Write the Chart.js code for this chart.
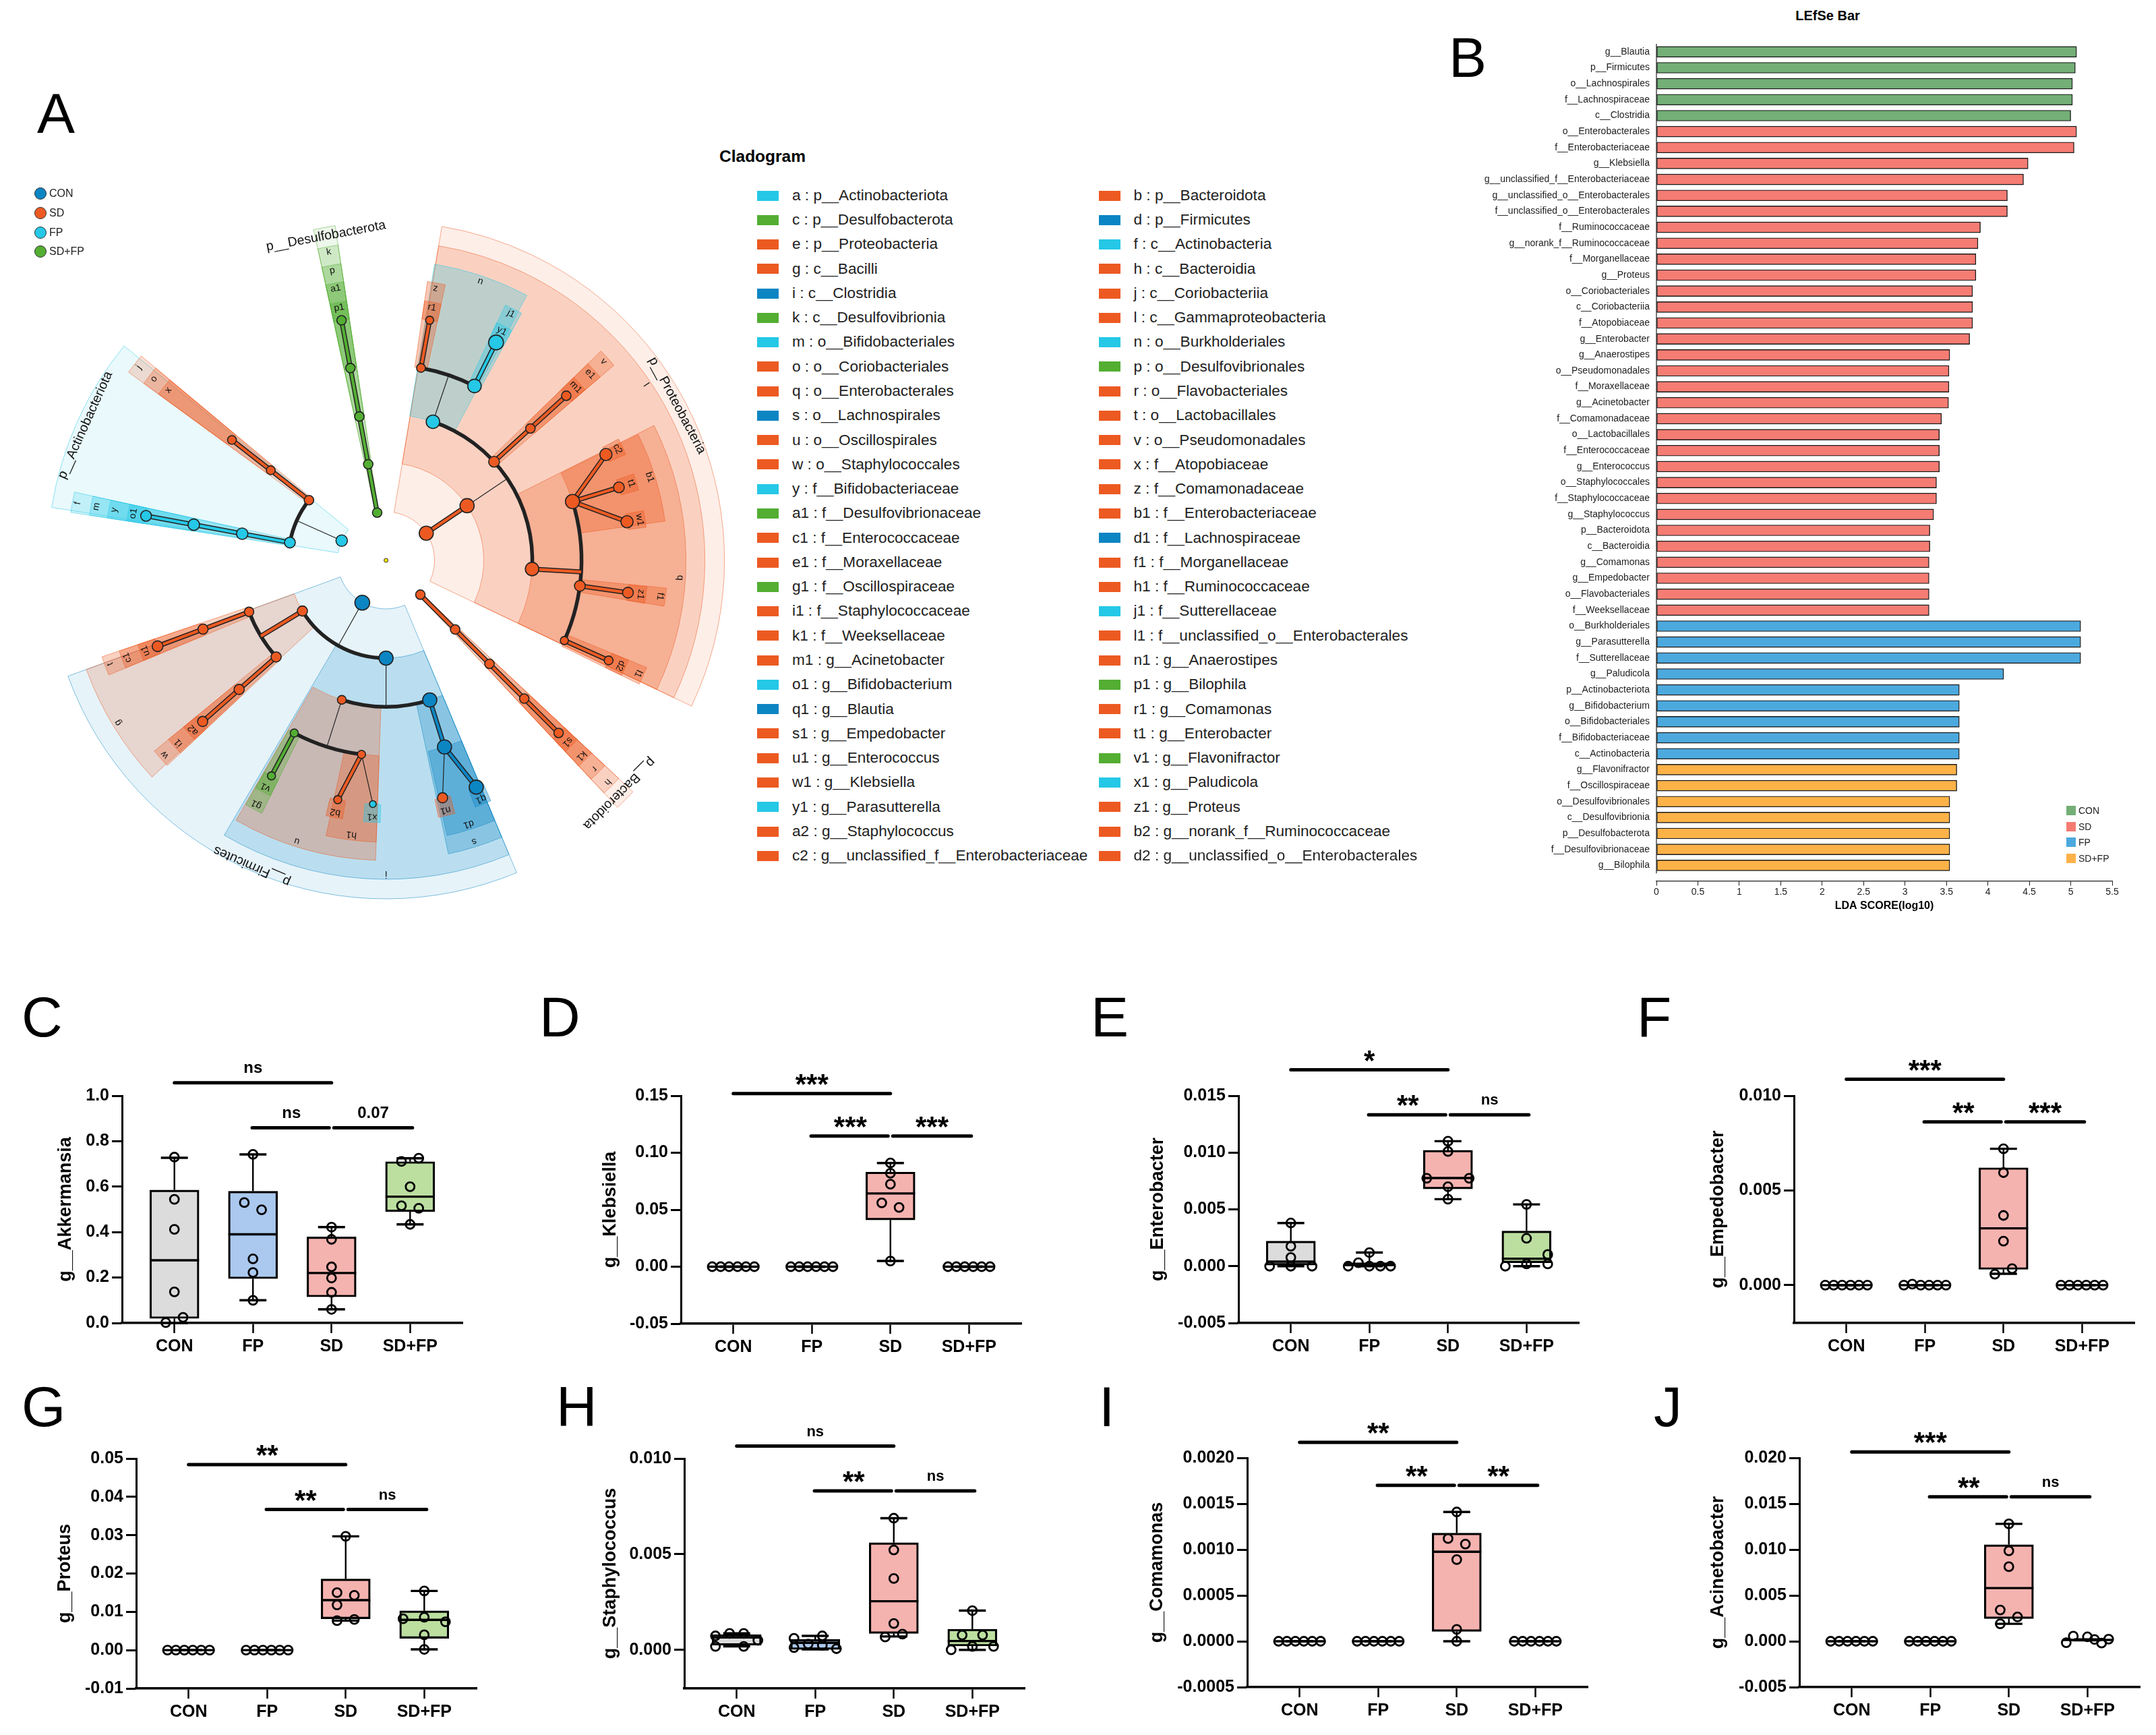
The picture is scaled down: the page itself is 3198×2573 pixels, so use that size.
<!DOCTYPE html>
<html><head><meta charset="utf-8">
<style>
html,body{margin:0;padding:0;background:#fff}
#page{position:relative;width:3198px;height:2573px;overflow:hidden;background:#fff;font-family:"Liberation Sans",Arial,sans-serif}
canvas{position:absolute;display:block}
.t{position:absolute;white-space:pre;line-height:1;color:#000;z-index:5}
.s{position:absolute;z-index:5}
</style>
<script src="https://cdn.jsdelivr.net/npm/chart.js@4"></script>
</head><body><div id="page"></div>
<script>
/* ---------- DATA ---------- */
const groupNames=['CON','FP','SD','SD+FP'];
const zeroBox=[0,0,0,0,0];
const zeroPts=[[0,-.268],[0,-.161],[0,-.054],[0,.054],[0,.161],[0,.268]];

// boxes: [min,q1,median,q3,max]   points: [value, sideways offset in category units]
const akkermansiaBox=[[0,.02,.276,.585,.727],[.10,.195,.39,.58,.742],[.06,.115,.22,.379,.422],[.434,.49,.556,.71,.725]];
const akkermansiaPts=[[[.73,0],[.544,0],[.412,0],[.137,0],[.025,.11],[.002,-.11]],[[.742,0],[.53,-.11],[.498,.11],[.282,0],[.222,0],[.10,0]],[[.422,0],[.368,0],[.247,0],[.198,0],[.135,0],[.06,0]],[[.725,.11],[.711,-.11],[.60,0],[.516,-.11],[.505,.11],[.434,0]]];
const klebsiellaBox=[zeroBox,zeroBox,[.005,.041,.0643,.083,.091],zeroBox];
const klebsiellaPts=[zeroPts,zeroPts,[[.091,0],[.082,0],[.0724,0],[.056,-.11],[.052,.11],[.005,0]],zeroPts];
const enterobacterBox=[[0,.0001,.0004,.0022,.0038],[0,0,.0001,.0003,.0012],[.0059,.0068,.00776,.0102,.011],[0,.0003,.00066,.0031,.00544]];
const enterobacterPts=[[[.0038,0],[.00175,0],[.00077,0],[0,-.27],[0,0],[0,.27]],[[.0012,0],[.0003,-.14],[0,-.27],[0,0],[0,.14],[0,.27]],[[.011,0],[.0101,0],[.00774,-.27],[.00774,.27],[.007,0],[.0059,0]],[[.00544,0],[.00245,0],[.00103,.27],[.0002,.27],[.0002,0],[0,-.27]]];
const empedobacterBox=[zeroBox,zeroBox,[.0006,.00083,.003,.0062,.0072],zeroBox];
const empedobacterPts=[zeroPts,[[0,-.268],[.00005,-.161],[0,-.054],[0,.054],[0,.161],[0,.268]],[[.0072,0],[.00594,0],[.00368,0],[.00232,0],[.00087,.11],[.00058,-.11]],zeroPts];
const proteusBox=[zeroBox,zeroBox,[.0077,.0082,.01306,.01856,.0297],[.0002,.0031,.0079,.01026,.01545]];
const proteusPts=[zeroPts,zeroPts,[[.0297,0],[.015,-.11],[.0143,.11],[.0118,-.11],[.0077,-.11],[.008,.11]],[[.01545,0],[.0086,0],[.0082,-.27],[.0074,.27],[.004,0],[.0002,0]]];
const staphBox=[[.00018,.00024,.00065,.0008,.00086],[.00002,.00002,.00037,.00055,.00073],[.0007,.00086,.00254,.0056,.00688],[0,.0002,.00046,.00108,.00205]];
const staphPts=[[[.00073,-.27],[.00086,-.09],[.00086,.09],[.0005,.27],[.00018,-.27],[.00018,.09]],[[.0006,-.27],[.00073,.09],[.0003,-.09],[.00024,.09],[.00006,.27],[.00012,-.27]],[[.00688,0],[.00522,0],[.00373,0],[.00138,0],[.00082,.11],[.00067,-.11]],[[.00205,0],[.00077,-.13],[.00077,.13],[.00018,0],[.00018,.27],[0,-.27]]];
const comamonasBox=[zeroBox,zeroBox,[0,.000107,.000976,.00118,.00141],zeroBox];
const comamonasPts=[zeroPts,zeroPts,[[.00141,0],[.00112,-.11],[.00106,.11],[.00089,0],[.00013,0],[0,0]],zeroPts];
const acinetobacterBox=[zeroBox,zeroBox,[.0019,.00247,.0058,.01053,.0128],[.0001,.0001,.00015,.0002,.0002]];
const acinetobacterPts=[zeroPts,zeroPts,[[.0128,0],[.00986,0],[.00813,0],[.00341,-.11],[.00265,.11],[.0019,-.11]],[[.00056,-.18],[.00048,0],[.0002,.09],[.00023,.27],[-.00015,-.27],[-.0002,.18]]];

// LEfSe
const lefseNames=['g__Blautia','p__Firmicutes','o__Lachnospirales','f__Lachnospiraceae','c__Clostridia','o__Enterobacterales','f__Enterobacteriaceae','g__Klebsiella','g__unclassified_f__Enterobacteriaceae','g__unclassified_o__Enterobacterales','f__unclassified_o__Enterobacterales','f__Ruminococcaceae','g__norank_f__Ruminococcaceae','f__Morganellaceae','g__Proteus','o__Coriobacteriales','c__Coriobacteriia','f__Atopobiaceae','g__Enterobacter','g__Anaerostipes','o__Pseudomonadales','f__Moraxellaceae','g__Acinetobacter','f__Comamonadaceae','o__Lactobacillales','f__Enterococcaceae','g__Enterococcus','o__Staphylococcales','f__Staphylococcaceae','g__Staphylococcus','p__Bacteroidota','c__Bacteroidia','g__Comamonas','g__Empedobacter','o__Flavobacteriales','f__Weeksellaceae','o__Burkholderiales','g__Parasutterella','f__Sutterellaceae','g__Paludicola','p__Actinobacteriota','g__Bifidobacterium','o__Bifidobacteriales','f__Bifidobacteriaceae','c__Actinobacteria','g__Flavonifractor','f__Oscillospiraceae','o__Desulfovibrionales','c__Desulfovibrionia','p__Desulfobacterota','f__Desulfovibrionaceae','g__Bilophila'];
const lefseScores=[5.07,5.055,5.02,5.02,5.0,5.07,5.04,4.485,4.43,4.235,4.235,3.91,3.88,3.855,3.855,3.815,3.815,3.815,3.78,3.54,3.53,3.53,3.525,3.44,3.415,3.415,3.415,3.38,3.38,3.345,3.30,3.30,3.29,3.29,3.29,3.29,5.12,5.12,5.12,4.19,3.655,3.655,3.655,3.655,3.655,3.625,3.625,3.54,3.54,3.54,3.54,3.54];
const lefseGroupCounts=[['CON',5],['SD',31],['FP',9],['SD+FP',7]];
const lefseTicks=[0,.5,1,1.5,2,2.5,3,3.5,4,4.5,5,5.5];

// Cladogram legend
const cladoLegendLeft=[['a : p__Actinobacteriota','FP'],['c : p__Desulfobacterota','SD+FP'],['e : p__Proteobacteria','SD'],['g : c__Bacilli','SD'],['i : c__Clostridia','CON'],['k : c__Desulfovibrionia','SD+FP'],['m : o__Bifidobacteriales','FP'],['o : o__Coriobacteriales','SD'],['q : o__Enterobacterales','SD'],['s : o__Lachnospirales','CON'],['u : o__Oscillospirales','SD'],['w : o__Staphylococcales','SD'],['y : f__Bifidobacteriaceae','FP'],['a1 : f__Desulfovibrionaceae','SD+FP'],['c1 : f__Enterococcaceae','SD'],['e1 : f__Moraxellaceae','SD'],['g1 : f__Oscillospiraceae','SD+FP'],['i1 : f__Staphylococcaceae','SD'],['k1 : f__Weeksellaceae','SD'],['m1 : g__Acinetobacter','SD'],['o1 : g__Bifidobacterium','FP'],['q1 : g__Blautia','CON'],['s1 : g__Empedobacter','SD'],['u1 : g__Enterococcus','SD'],['w1 : g__Klebsiella','SD'],['y1 : g__Parasutterella','FP'],['a2 : g__Staphylococcus','SD'],['c2 : g__unclassified_f__Enterobacteriaceae','SD']];
const cladoLegendRight=[['b : p__Bacteroidota','SD'],['d : p__Firmicutes','CON'],['f : c__Actinobacteria','FP'],['h : c__Bacteroidia','SD'],['j : c__Coriobacteriia','SD'],['l : c__Gammaproteobacteria','SD'],['n : o__Burkholderiales','FP'],['p : o__Desulfovibrionales','SD+FP'],['r : o__Flavobacteriales','SD'],['t : o__Lactobacillales','SD'],['v : o__Pseudomonadales','SD'],['x : f__Atopobiaceae','SD'],['z : f__Comamonadaceae','SD'],['b1 : f__Enterobacteriaceae','SD'],['d1 : f__Lachnospiraceae','CON'],['f1 : f__Morganellaceae','SD'],['h1 : f__Ruminococcaceae','SD'],['j1 : f__Sutterellaceae','FP'],['l1 : f__unclassified_o__Enterobacterales','SD'],['n1 : g__Anaerostipes','SD'],['p1 : g__Bilophila','SD+FP'],['r1 : g__Comamonas','SD'],['t1 : g__Enterobacter','SD'],['v1 : g__Flavonifractor','SD+FP'],['x1 : g__Paludicola','FP'],['z1 : g__Proteus','SD'],['b2 : g__norank_f__Ruminococcaceae','SD'],['d2 : g__unclassified_o__Enterobacterales','SD']];

// Cladogram tree: [label, level, angle(deg), parent, group, node size, optional sector from, to]
const levelRadius=[72,145,217,290,362];
const levelOuter=[502,473,445,418,389];
const levelAlpha=[.1,.2,.28,.34,.4];
const proteobacteriaClades=[['e',0,34,null,'SD',10.5,-25.5,80.5],['l',1,34,'e','SD',10.5,-25.5,80.5],['q',2,-3.4,'l','SD',10,-25.5,26.7],['v',2,42.4,'l','SD',8],['n',2,71.3,'l','FP',10,62,80.7],['b1',3,17.5,'q','SD',10.5,8,26.5],['f1',3,-7.5,'q','SD',8],['l1',3,-24.2,'q','SD',6],['e1',3,42.4,'v','SD',7],['z',3,79.7,'n','SD',6.5],['j1',3,63.1,'n','FP',10],['c2',4,25.7,'b1','SD',9],['t1',4,17.4,'b1','SD',8],['w1',4,9.1,'b1','SD',9],['z1',4,-7.6,'f1','SD',8],['d2',4,-24.2,'l1','SD',6.5],['m1',4,42.4,'e1','SD',7],['r1',4,79.7,'z','SD',6],['y1',4,63.2,'j1','FP',11]];
const bacteroidotaClades=[['b',0,-45,null,'SD',7],['h',1,-45,'b','SD',7],['r',2,-45,'h','SD',7],['k1',3,-45,'r','SD',7],['s1',4,-45,'k1','SD',7]];
const desulfobacterotaClades=[['c',0,100.5,null,'SD+FP',7],['k',1,100.5,'c','SD+FP',7],['p',2,100.5,'k','SD+FP',7],['a1',3,100.5,'p','SD+FP',7],['p1',4,100.5,'a1','SD+FP',7]];
const actinobacteriotaClades=[['a',0,156,null,'FP',8.5,140.7,171],['f',1,169.5,'a','FP',8],['j',1,142,'a','SD',7],['m',2,169.5,'f','FP',8.5],['o',2,142,'j','SD',6.5],['y',3,169.5,'m','FP',8.5],['x',3,142,'o','SD',6.5],['o1',4,169.5,'y','FP',8]];
const firmicutesClades=[['d',0,240.7,null,'CON',11,200,292.7],['i',1,270,'d','CON',10.5,239.5,292.7],['g',1,211.2,'d','SD',7.5,200,222.8],['t',2,200.6,'g','SD',7],['w',2,221.3,'g','SD',7.5],['u',2,252.4,'i','SD',6.5,240,268],['s',2,287.4,'i','CON',10.5,282,292.7],['c1',3,200.6,'t','SD',7.5],['i1',3,221.3,'w','SD',7.5],['d1',3,287.4,'s','CON',10.5,282.5,292.7],['g1',3,242,'u','SD+FP',6],['h1',3,262.8,'u','SD',6,257.7,268],['u1',4,200.6,'c1','SD',8],['a2',4,221.3,'i1','SD',7.5],['q1',4,291.7,'d1','CON',10.5],['n1',4,283.4,'d1','SD',7.5],['v1',4,242,'g1','SD+FP',6],['b2',4,258.6,'h1','SD',6],['x1',4,266.9,'h1','FP',5]];
const arcParents=['l','q','n','a','d','g','i','u'];
const phylumLabels=[['p__Actinobacteriota',155.8,489],['p__Desulfobacterota',100.5,489],['p__Proteobacteria',28,489],['p__Bacteroidota',-45,489],['p__Firmicutes',246.3,495]];

/* ---------- STYLES / HELPERS ---------- */
const FONT='"Liberation Sans",Arial,sans-serif';
const page=document.getElementById('page');
const boxFill=['#DCDCDC','#ABC8EE','#F5B3B0','#BCDFA0'];
const cladeColor={CON:'#0C85C3',SD:'#EC5A22',FP:'#25C8E6','SD+FP':'#53AE32'};
const lefseColor={CON:'#73AF76',SD:'#F57C73',FP:'#4CA9DE','SD+FP':'#FDB248'};
Chart.defaults.font.family=FONT;
Chart.defaults.animation=false;

function text(s,x,base,size,o={}){
  const e=document.createElement('div');e.className='t';e.textContent=s;
  e.style.cssText+=`left:${x}px;top:${base-.8465*size}px;font-size:${size}px;font-weight:${o.bold?'bold':'normal'};color:${o.color||'#000'};`+(o.center?'transform:translateX(-50%);':'');
  page.appendChild(e);
}
function swatch(x,y,w,h,c,round){
  const e=document.createElement('div');e.className='s';
  e.style.cssText+=`left:${x}px;top:${y}px;width:${w}px;height:${h}px;background:${c};`+(round?'border-radius:50%;border:1.2px solid #333;box-sizing:border-box;':'');
  page.appendChild(e);
}
function mk(x,y,w,h){
  const c=document.createElement('canvas');c.width=Math.round(w);c.height=Math.round(h);
  c.style.left=x+'px';c.style.top=y+'px';c.style.width=Math.round(w)+'px';c.style.height=Math.round(h)+'px';
  page.appendChild(c);return c;
}
const quiet={legend:{display:false},tooltip:{enabled:false}};

/* ---------- PANEL LETTERS ---------- */
[['A',55,197],['B',2149,114],['C',32,1537],['D',800,1537],['E',1618,1537],['F',2428,1537],['G',32,2115],['H',825,2115],['I',1630,2115],['J',2453,2115]].forEach(l=>text(l[0],l[1],l[2],84));

/* ---------- BOX PANELS ---------- */
function boxPanel(p){
  const L=170,T=110,R=20,B=70,W=505;
  const rowShift=p.top<2000?2.5:2;
  const cv=mk(p.axisX-L,Math.round(p.top+rowShift-T),W+L+R,p.bottom-p.top+T+B);
  const stems=[],medians=[],caps=[],pts=[];
  p.box.forEach((b,i)=>{
    stems.push({x:i,y:b[3]},{x:i,y:b[4]},{x:i,y:null},{x:i,y:b[1]},{x:i,y:b[0]},{x:i,y:null});
    medians.push({x:i,y:b[2]});
    caps.push({x:i,y:b[0]},{x:i,y:b[4]});
    p.pts[i].forEach(q=>pts.push({x:i+q[1],y:q[0]}));
  });
  const [l1,l2]=p.sigLevels;
  const sig=[{x:0,y:l1},{x:2,y:l1},{x:0,y:null},{x:.99,y:l2},{x:1.97,y:l2},{x:0,y:null},{x:2.03,y:l2},{x:3.03,y:l2}];
  const sigTextPlugin={id:'sigText',afterDatasetsDraw(ch){
    const c=ch.ctx,sx=ch.scales.x,sy=ch.scales.y;
    const items=[[1,l1,p.sigLabels[0]],[1.49,l2,p.sigLabels[1]],[2.53,l2,p.sigLabels[2]]];
    c.save();c.fillStyle='#000';c.textAlign='center';c.textBaseline='alphabetic';
    items.forEach(([x,v,s])=>{
      const star=s.includes('*');
      c.font=`bold ${star?42:(p.nsSize||22)}px ${FONT}`;
      c.fillText(s,sx.getPixelForValue(x),sy.getPixelForValue(v)+(star?0:-15));
    });
    c.restore();
  }};
  new Chart(cv,{type:'scatter',plugins:[sigTextPlugin],data:{datasets:[
    {type:'bar',data:p.box.map((b,i)=>({x:i,y:[b[1],b[3]]})),backgroundColor:boxFill,borderColor:'#000',borderWidth:3.2,borderSkipped:false,barThickness:73,order:5,clip:false},
    {showLine:true,data:stems,borderColor:'#000',borderWidth:2.4,pointRadius:0,order:4,clip:false},
    {data:caps,pointStyle:'line',pointRadius:20,pointBorderWidth:3.4,pointBorderColor:'#000',order:3,clip:false},
    {data:medians,pointStyle:'line',pointRadius:36.5,pointBorderWidth:3.4,pointBorderColor:'#000',order:2,clip:false},
    {data:pts,pointStyle:'circle',pointRadius:6.5,pointBorderWidth:2.8,pointBorderColor:'#000',pointBackgroundColor:'rgba(0,0,0,0)',order:1,clip:false},
    {showLine:true,data:sig,borderColor:'#000',borderWidth:5,borderCapStyle:'round',pointRadius:0,order:0,clip:false}
  ]},options:{responsive:false,devicePixelRatio:1,animation:false,plugins:quiet,
    layout:{autoPadding:false,padding:{left:0,top:T,right:R,bottom:0}},
    scales:{
      x:{type:'linear',offset:false,min:-2/3,max:3+2/3,
        afterFit(s){s.height=B},
        afterBuildTicks(s){s.ticks=[0,1,2,3].map(v=>({value:v}))},
        grid:{offset:false,drawOnChartArea:false,drawTicks:true,tickLength:15,tickWidth:2.5,tickColor:'#000'},
        border:{display:true,color:'#000',width:3.5},
        ticks:{autoSkip:false,maxRotation:0,padding:p.xPad,color:'#000',font:{size:25,weight:'bold'},callback:v=>groupNames[v]}},
      y:{type:'linear',beginAtZero:false,min:p.min,max:p.max,
        afterFit(s){s.width=L},
        afterBuildTicks(s){s.ticks=p.ticks.map(v=>({value:v}))},
        grid:{drawOnChartArea:false,drawTicks:true,tickLength:15,tickWidth:3,tickColor:'#000'},
        border:{display:true,color:'#000',width:3},
        ticks:{autoSkip:false,padding:4,color:'#000',font:{size:25,weight:'bold'},callback:v=>v.toFixed(p.dec)},
        title:{display:true,text:p.title,color:'#000',font:{size:27,weight:'bold'},padding:{top:p.titleX-(p.axisX-L)-16.2,bottom:0}}}
    }}});
}
boxPanel({axisX:180.6,top:1622,bottom:1958.7,min:0,max:1,ticks:[0,.2,.4,.6,.8,1],dec:1,title:'g__Akkermansia',titleX:97,box:akkermansiaBox,pts:akkermansiaPts,sigLevels:[1.057,.859],sigLabels:['ns','ns','0.07'],nsSize:24,xPad:5});
boxPanel({axisX:1010,top:1622.8,bottom:1960.5,min:-.05,max:.15,ticks:[-.05,0,.05,.10,.15],dec:2,title:'g__Klebsiella',titleX:906,box:klebsiellaBox,pts:klebsiellaPts,sigLevels:[.1519,.1147],sigLabels:['***','***','***'],xPad:5});
boxPanel({axisX:1836.7,top:1622.4,bottom:1959.8,min:-.005,max:.015,ticks:[-.005,0,.005,.010,.015],dec:3,title:'g__Enterobacter',titleX:1717,box:enterobacterBox,pts:enterobacterPts,sigLevels:[.01728,.01333],sigLabels:['*','**','ns'],xPad:5});
boxPanel({axisX:2661,top:1622.8,bottom:1959.8,min:-.002,max:.01,ticks:[0,.005,.01],dec:3,title:'g__Empedobacter',titleX:2549,box:empedobacterBox,pts:empedobacterPts,sigLevels:[.01087,.00862],sigLabels:['***','**','***'],xPad:5});
boxPanel({axisX:202,top:2160.5,bottom:2501,min:-.01,max:.05,ticks:[-.01,0,.01,.02,.03,.04,.05],dec:2,title:'g__Proteus',titleX:97,box:proteusBox,pts:proteusPts,sigLevels:[.0484,.0367],sigLabels:['**','**','ns'],xPad:5});
boxPanel({axisX:1015,top:2160.5,bottom:2501,min:-.00202,max:.01,ticks:[0,.005,.01],dec:3,title:'g__Staphylococcus',titleX:906,box:staphBox,pts:staphPts,sigLevels:[.01065,.00831],sigLabels:['ns','**','ns'],xPad:5});
boxPanel({axisX:1850,top:2159.8,bottom:2499.5,min:-.0005,max:.002,ticks:[-.0005,0,.0005,.001,.0015,.002],dec:4,title:'g__Comamonas',titleX:1717,box:comamonasBox,pts:comamonasPts,sigLevels:[.00217,.0017],sigLabels:['**','**','**'],xPad:5});
boxPanel({axisX:2669,top:2159.8,bottom:2499.5,min:-.005,max:.02,ticks:[-.005,0,.005,.01,.015,.02],dec:3,title:'g__Acinetobacter',titleX:2549,box:acinetobacterBox,pts:acinetobacterPts,sigLevels:[.02064,.01575],sigLabels:['***','**','ns'],xPad:5});

/* ---------- PANEL B : LEfSe ---------- */
(function(){
  const L=360,T=30,R=40,B=60,left=2457,right=3133,top=65,bottom=1307;
  const cv=mk(left-L,top-T,right-left+L+R,bottom-top+T+B);
  const barColors=[];lefseGroupCounts.forEach(([g,n])=>{for(let i=0;i<n;i++)barColors.push(lefseColor[g])});
  const axisLine={id:'yLine',afterDatasetsDraw(ch){
    const c=ch.ctx,sx=ch.scales.x,sy=ch.scales.y,x=sx.getPixelForValue(0);
    c.save();c.strokeStyle='#222';c.lineWidth=1.2;c.beginPath();c.moveTo(x,sy.getPixelForValue(-.5));c.lineTo(x,sy.getPixelForValue(51.5));c.stroke();c.restore();
  }};
  new Chart(cv,{type:'bar',plugins:[axisLine],data:{datasets:[{data:lefseScores.map((v,i)=>({x:v,y:i})),backgroundColor:barColors,borderColor:'#1a1a1a',borderWidth:1.4,borderSkipped:false,barThickness:16}]},
   options:{indexAxis:'y',responsive:false,devicePixelRatio:1,animation:false,plugins:quiet,layout:{autoPadding:false,padding:{left:0,top:T,right:R,bottom:0}},
    scales:{
      x:{type:'linear',min:0,max:5.5,afterFit(s){s.height=B},
        afterBuildTicks(s){s.ticks=lefseTicks.map(v=>({value:v}))},
        grid:{drawOnChartArea:false,drawTicks:true,tickLength:6.5,tickWidth:1,tickColor:'#222'},
        border:{display:true,color:'#222',width:1.2},
        ticks:{autoSkip:false,maxRotation:0,padding:1.5,color:'#222',font:{size:14},callback:v=>String(v)},
        title:{display:true,text:'LDA SCORE(log10)',color:'#000',font:{size:16,weight:'bold'},padding:{top:0,bottom:14}}},
      y:{type:'linear',reverse:true,offset:false,min:-.5,max:52,afterFit(s){s.width=L},
        afterBuildTicks(s){s.ticks=lefseNames.map((n,i)=>({value:i}))},
        grid:{offset:false,display:false,drawTicks:false},border:{display:false},
        ticks:{autoSkip:false,padding:10,color:'#222',font:{size:14},callback:v=>lefseNames[v]}}
    }}});
  text('LEfSe Bar',2711,30,20,{bold:true,center:true});
  [['CON',1202],['SD',1225.6],['FP',1249],['SD+FP',1273]].forEach(([g,y])=>{
    swatch(3065,y-7,14,14,lefseColor[g]);
    text(g,3083,y+5,14,{color:'#222'});
  });
})();

/* ---------- CLADOGRAM LEGEND ---------- */
text('Cladogram',1067,241,24.5,{bold:true});
[[cladoLegendLeft,1123,1175],[cladoLegendRight,1630,1681.5]].forEach(([rows,sx,tx])=>{
  rows.forEach((r,i)=>{
    const y=290+i*36.27;
    swatch(sx,y-7.5,32,15,cladeColor[r[1]]);
    text(r[0],tx,y+8,22.6,{color:'#222'});
  });
});
[['CON',287],['SD',316],['FP',345],['SD+FP',373]].forEach(([g,y])=>{
  swatch(51,y-9,18,18,cladeColor[g],true);
  text(g,73,y+5.6,16,{color:'#222'});
});

/* ---------- PANEL A : CLADOGRAM ---------- */
(function(){
  const cx=572.6,cy=831,cl=40,ct=280,cw=1040,chh=1100;
  const cv=mk(cl,ct,cw,chh);
  const clades=[...proteobacteriaClades,...bacteroidotaClades,...desulfobacterotaClades,...actinobacteriotaClades,...firmicutesClades];
  const rad=a=>a*Math.PI/180;
  const pol=(r,a)=>({x:r*Math.cos(rad(a)),y:r*Math.sin(rad(a))});
  const thick={CON:[],SD:[],FP:[],'SD+FP':[]},thin=[],arcs=[];
  const gap=(q)=>q.push({x:0,y:null});
  clades.forEach(c=>{
    const kids=clades.filter(k=>k[3]===c[0]);
    if(!kids.length) return;
    const from=pol(levelRadius[c[1]],c[2]);
    if(arcParents.includes(c[0])){
      const angs=kids.map(k=>k[2]);
      arcs.push([levelRadius[c[1]+1],Math.min(...angs),Math.max(...angs)]);
      const to=pol(levelRadius[c[1]+1],c[2]);
      const t=kids.every(k=>k[4]===c[4])?thick[c[4]]:thin;
      t.push(from,to);gap(t);
    }else kids.forEach(k=>{
      const to=pol(levelRadius[k[1]],k[2]);
      const t=k[4]===c[4]?thick[c[4]]:thin;
      t.push(from,to);gap(t);
    });
  });
  const cladePlugin={id:'clade',
    beforeDatasetsDraw(ch){
      const c=ch.ctx,sx=ch.scales.x,sy=ch.scales.y,ox=sx.getPixelForValue(0),oy=sy.getPixelForValue(0),k=sx.getPixelForValue(1)-ox;
      c.save();
      [...clades].sort((a,b)=>a[1]-b[1]).forEach(n=>{
        const s0=n.length>6?n[6]:n[2]-1.85,s1=n.length>6?n[7]:n[2]+1.85;
        c.beginPath();
        c.arc(ox,oy,levelOuter[n[1]]*k,-rad(s0),-rad(s1),true);
        c.arc(ox,oy,levelRadius[n[1]]*k,-rad(s1),-rad(s0),false);
        c.closePath();
        c.fillStyle=cladeColor[n[4]];c.globalAlpha=levelAlpha[n[1]];c.fill();
        c.strokeStyle=cladeColor[n[4]];c.globalAlpha=.5;c.lineWidth=1;c.stroke();
      });
      c.globalAlpha=1;c.strokeStyle='#222';c.lineWidth=5.5;
      arcs.forEach(([r,a,b])=>{c.beginPath();c.arc(ox,oy,r*k,-rad(a),-rad(b),true);c.stroke();});
      c.restore();
    },
    afterDatasetsDraw(ch){
      const c=ch.ctx,sx=ch.scales.x,sy=ch.scales.y;
      c.save();c.fillStyle='#111';c.textAlign='center';c.textBaseline='middle';
      const put=(s,r,a,font)=>{const p=pol(r,a);c.save();c.translate(sx.getPixelForValue(p.x),sy.getPixelForValue(p.y));c.rotate(rad(90-a));c.font=font;c.fillText(s,0,0);c.restore();};
      clades.forEach(n=>{if(n[1]>0)put(n[0],levelOuter[n[1]]-8,n[2],`14px ${FONT}`);});
      phylumLabels.forEach(([s,a,r])=>put(s,r,a,`19.5px ${FONT}`));
      c.restore();
    }};
  const ds=[];
  ds.push({data:clades.map(n=>pol(levelRadius[n[1]],n[2])),pointRadius:clades.map(n=>n[5]),pointBackgroundColor:clades.map(n=>cladeColor[n[4]]),pointBorderColor:'#222',pointBorderWidth:1.6,order:0,clip:false});
  ds.push({data:[{x:0,y:0}],pointRadius:3,pointBackgroundColor:'#F5E000',pointBorderColor:'#333',pointBorderWidth:1,order:0,clip:false});
  Object.keys(thick).forEach(g=>{
    ds.push({showLine:true,data:thick[g],borderColor:cladeColor[g],borderWidth:4.2,pointRadius:0,order:1,clip:false});
    ds.push({showLine:true,data:thick[g],borderColor:'#222',borderWidth:7.2,pointRadius:0,order:2,clip:false});
  });
  ds.push({showLine:true,data:thin,borderColor:'#222',borderWidth:1.2,pointRadius:0,order:3,clip:false});
  new Chart(cv,{type:'scatter',plugins:[cladePlugin],data:{datasets:ds},options:{responsive:false,devicePixelRatio:1,animation:false,plugins:quiet,layout:{autoPadding:false,padding:0},
    scales:{x:{type:'linear',display:false,min:cl-cx,max:cl+cw-cx},y:{type:'linear',display:false,min:cy-(ct+chh),max:cy-ct}}}});
})();
</script></body></html>
